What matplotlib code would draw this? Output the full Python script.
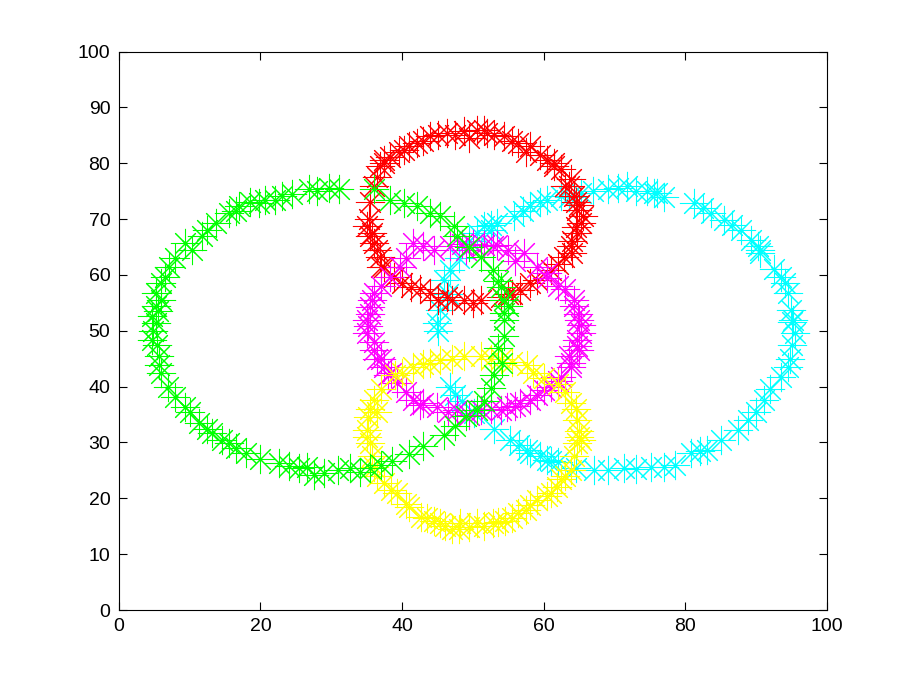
"""
five noisy rings of asterisk markers, matlab look
"""
import numpy as np
from matplotlib import pyplot as plt

# points, one (x, y) list per ring
green_x = [5.2, 6.6, 7.1, 9.4, 10.3, 11.7, 13.7, 15.6, 17.0, 19.8, 20.7, 23.1, 26.9, 29.7,
           31.1, 36.0, 38.3, 40.2, 42.1, 45.4, 47.3, 47.8, 51.1, 52.9, 53.9, 54.4, 54.4,
           54.4, 54.4, 54.1, 52.5, 50.6, 49.0, 45.9, 43.0, 38.6, 35.5, 32.7, 29.0, 26.6,
           25.5, 22.6, 17.9, 15.6, 14.6, 13.2, 11.3, 9.4, 8.0, 5.7, 5.7, 5.4, 4.7, 5.2,
           4.7, 5.2,
           6.0, 8.0, 12.5, 16.5, 18.5, 22.0, 24.5, 28.0, 44.0, 49.5, 53.5,
           55.0, 53.5, 53.0, 51.5, 47.5, 41.0, 37.0, 34.0, 31.0, 27.5, 24.0, 20.0, 16.5,
           12.5, 10.0, 7.0, 6.0, 4.8, 6.0, 5.5]
green_y = [56.8, 59.7, 61.5, 65.7, 64.5, 66.9, 69.3, 71.1, 72.3, 72.9, 73.5, 74.1, 75.3, 75.6,
           75.3, 75.3, 73.5, 72.9, 72.3, 70.5, 68.7, 66.9, 63.3, 60.9, 57.9, 55.6, 53.2,
           52.0, 49.0, 44.2, 39.7, 35.8, 34.8, 31.4, 29.3, 26.6, 25.4, 25.4, 24.5, 25.7,
           25.4, 26.3, 28.1, 29.9, 30.5, 31.7, 33.5, 36.4, 38.2, 43.9, 45.4, 47.5, 48.4,
           51.4, 52.6, 54.5,
           58.5, 63.0, 68.0, 71.5, 73.0, 73.5, 74.5, 75.0, 71.0, 65.0, 59.0,
           54.5, 47.0, 42.0, 37.5, 33.0, 28.0, 26.0, 24.8, 25.0, 24.2, 25.8, 27.0, 29.0,
           32.5, 35.5, 40.0, 42.5, 50.0, 55.5, 53.5]

red_x = [36.0, 36.9, 38.3, 40.2, 42.1, 44.0, 46.3, 48.7, 50.6, 52.0, 54.4, 56.3, 58.1,
         60.5, 62.4, 63.8, 64.3, 64.7, 65.2, 64.7, 63.8, 62.8, 61.0, 59.1, 56.7, 53.9,
         51.1, 48.7, 46.3, 44.0, 41.2, 38.8, 36.9, 36.0, 35.0, 35.5, 37.5, 39.5, 43.0,
         47.5, 49.5, 53.0, 57.5, 61.5, 65.0, 64.0, 63.0, 55.5, 45.0, 37.0,
         35.5, 36.5, 37.5, 41.0, 45.0, 51.5, 55.5, 59.5, 61.5, 63.5, 64.5, 65.5, 64.5,
         64.0, 62.0, 58.0, 55.0, 50.0, 47.0, 42.5, 40.0, 37.5, 36.5, 35.8, 35.3]
red_y = [75.9, 79.5, 81.2, 82.4, 83.6, 84.8, 85.4, 85.7, 86.0, 85.4, 84.8, 83.6, 83.0,
         80.6, 78.9, 77.1, 74.1, 71.7, 69.3, 67.5, 65.1, 63.3, 60.9, 59.1, 57.3, 56.1,
         55.6, 55.6, 56.1, 56.7, 57.9, 59.7, 63.3, 65.7, 68.7, 66.9, 80.5, 82.0, 84.0,
         85.0, 84.5, 85.0, 82.0, 79.5, 72.5, 66.0, 76.0, 56.5, 55.5, 61.5,
         73.0, 77.5, 80.0, 83.0, 85.0, 86.0, 84.0, 81.5, 80.0, 76.0, 73.0, 70.5, 68.5,
         64.0, 62.0, 58.5, 56.5, 55.0, 55.5, 57.5, 58.5, 61.5, 64.5, 67.5, 70.0]

magenta_x = [35.0, 35.0, 36.0, 37.4, 39.3, 41.6, 44.9, 47.8, 51.1, 54.8, 58.1, 61.0,
             63.8, 64.7, 64.3, 65.2, 64.7, 63.8, 62.4, 60.0, 56.7, 53.9, 64.3, 60.5,
             57.2, 53.4, 52.9, 46.8, 43.0, 41.6, 39.7, 38.3, 36.0, 35.5, 35.2, 36.5,
             50.0, 49.0, 56.0, 62.0, 65.0, 38.0, 42.5, 60.5,
             35.5, 36.0, 37.0, 38.5, 40.5, 43.0, 46.5, 49.5, 52.5, 56.0, 59.0, 62.0,
             63.5, 65.0, 65.3, 64.8, 63.0, 59.0, 55.0, 51.5, 48.5, 44.5, 40.5, 37.0, 35.8]
magenta_y = [52.0, 49.6, 46.6, 43.6, 40.6, 37.6, 36.4, 35.8, 35.8, 36.4, 37.6, 40.0,
             43.6, 48.4, 54.4, 49.6, 47.2, 44.2, 41.8, 39.4, 37.0, 35.8, 55.6, 60.3,
             63.9, 65.4, 65.1, 65.1, 65.1, 65.7, 61.5, 59.7, 56.7, 54.3, 50.8, 45.0,
             65.5, 64.5, 62.5, 58.0, 52.0, 42.0, 36.8, 59.5,
             53.0, 48.0, 45.0, 42.5, 39.0, 37.0, 35.5, 35.0, 36.0, 36.5, 38.5, 41.0,
             45.5, 46.5, 51.0, 53.0, 57.5, 61.5, 64.5, 65.3, 65.5, 64.5, 63.0, 58.0, 55.5]

yellow_x = [41.6, 45.4, 48.7, 51.1, 57.7, 36.0, 35.0, 35.5, 36.0, 37.4, 39.3, 42.6,
            45.4, 48.2, 50.6, 52.9, 56.3, 59.1, 61.9, 63.8, 64.7, 64.7, 63.8, 63.0,
            60.0, 54.0, 44.0, 39.0, 35.2, 36.5, 40.5, 44.5, 47.0, 49.5, 54.5, 57.5,
            60.5, 62.5, 65.0, 65.3,
            35.5, 35.0, 35.8, 36.5, 38.5, 41.0, 43.5, 46.0, 48.0, 51.5, 53.5, 55.5,
            58.0, 61.0, 63.0, 64.3, 65.0, 64.5, 62.0, 58.5, 55.5, 52.5, 47.0, 43.0,
            40.0, 37.0]
yellow_y = [43.6, 44.8, 45.4, 45.4, 43.9, 37.6, 32.3, 29.9, 25.7, 22.7, 20.9, 16.7,
            15.5, 15.5, 15.5, 15.5, 17.3, 19.7, 22.1, 25.1, 29.9, 34.1, 37.0, 39.0,
            41.5, 45.0, 44.3, 42.0, 34.5, 35.5, 19.0, 16.0, 14.5, 14.8, 16.0, 18.0,
            20.5, 23.5, 32.0, 30.5,
            36.0, 31.0, 27.5, 24.0, 21.5, 18.5, 16.5, 15.0, 14.5, 15.0, 15.8, 16.5,
            18.8, 21.0, 24.0, 27.5, 31.0, 36.0, 40.5, 42.5, 44.5, 45.0, 45.0, 44.0,
            42.5, 39.5]

cyan_x = [51.5, 53.4, 55.8, 58.1, 60.5, 62.4, 65.2, 69.0, 71.8, 75.6, 76.0, 81.2, 83.6,
          85.5, 87.8, 89.3, 90.2, 93.5, 94.4, 94.9, 95.4, 94.4, 93.5, 91.1, 88.8, 87.4,
          83.1, 80.8, 77.0, 75.1, 71.3, 69.0, 67.1, 61.0, 58.1, 55.3, 57.7, 60.5, 50.1,
          46.8, 44.9, 45.4, 45.9, 46.8, 50.6, 52.5, 47.5, 95.0, 90.5, 73.0,
          52.5, 57.0, 59.5, 63.5, 67.0, 70.5, 74.5, 77.0, 82.5, 86.5, 90.5, 92.5, 94.0,
          95.2, 95.0, 94.8, 92.0, 90.0, 85.0, 82.0, 78.5, 73.0, 64.5, 62.0, 59.5, 56.5,
          53.0, 48.5, 45.0, 46.5, 48.0, 49.5]
cyan_y = [68.7, 69.3, 70.5, 72.3, 73.5, 74.1, 74.7, 75.3, 75.9, 74.7, 74.7, 72.9, 71.1,
          69.9, 68.1, 66.3, 65.1, 59.7, 56.7, 53.8, 49.6, 43.6, 41.8, 37.6, 34.1, 32.3,
          28.7, 28.1, 25.7, 25.7, 25.4, 25.1, 25.1, 26.6, 28.1, 30.5, 28.7, 26.9, 35.2,
          40.0, 51.4, 53.8, 59.1, 60.9, 67.5, 68.1, 38.5, 51.5, 64.0, 75.0,
          69.0, 71.5, 73.0, 74.0, 75.0, 75.5, 75.0, 74.0, 72.0, 69.0, 64.5, 61.0, 58.5,
          52.0, 47.5, 45.0, 39.5, 35.5, 30.5, 28.5, 26.0, 25.3, 25.5, 26.5, 27.5, 29.5,
          32.5, 37.5, 50.0, 56.5, 63.0, 66.0]

series = [
    (cyan_x, cyan_y, '#00ffff'),
    (red_x, red_y, '#ff0000'),
    (magenta_x, magenta_y, '#ff00ff'),
    (yellow_x, yellow_y, '#ffff00'),
    (green_x, green_y, '#00ff00'),
]

plt.rcParams['font.family'] = ['Liberation Sans', 'DejaVu Sans']

fig = plt.figure(figsize=(9.13, 6.87), dpi=100)
ax = fig.add_axes([0.13, 0.112, 0.776, 0.813])

for xs, ys, col in series:
    ax.plot(xs, ys, linestyle='none', marker=(8, 2, 0), markersize=21,
            markeredgewidth=0.75, color=col)

ax.set_xlim(0, 100)
ax.set_ylim(0, 100)
ax.set_xticks(np.arange(0, 101, 20))
ax.set_yticks(np.arange(0, 101, 10))
ax.tick_params(direction='in', length=6, width=0.8, top=True, right=True,
               labelsize=14, pad=6)
for sp in ax.spines.values():
    sp.set_linewidth(0.8)

plt.savefig('out.png', dpi=100)
